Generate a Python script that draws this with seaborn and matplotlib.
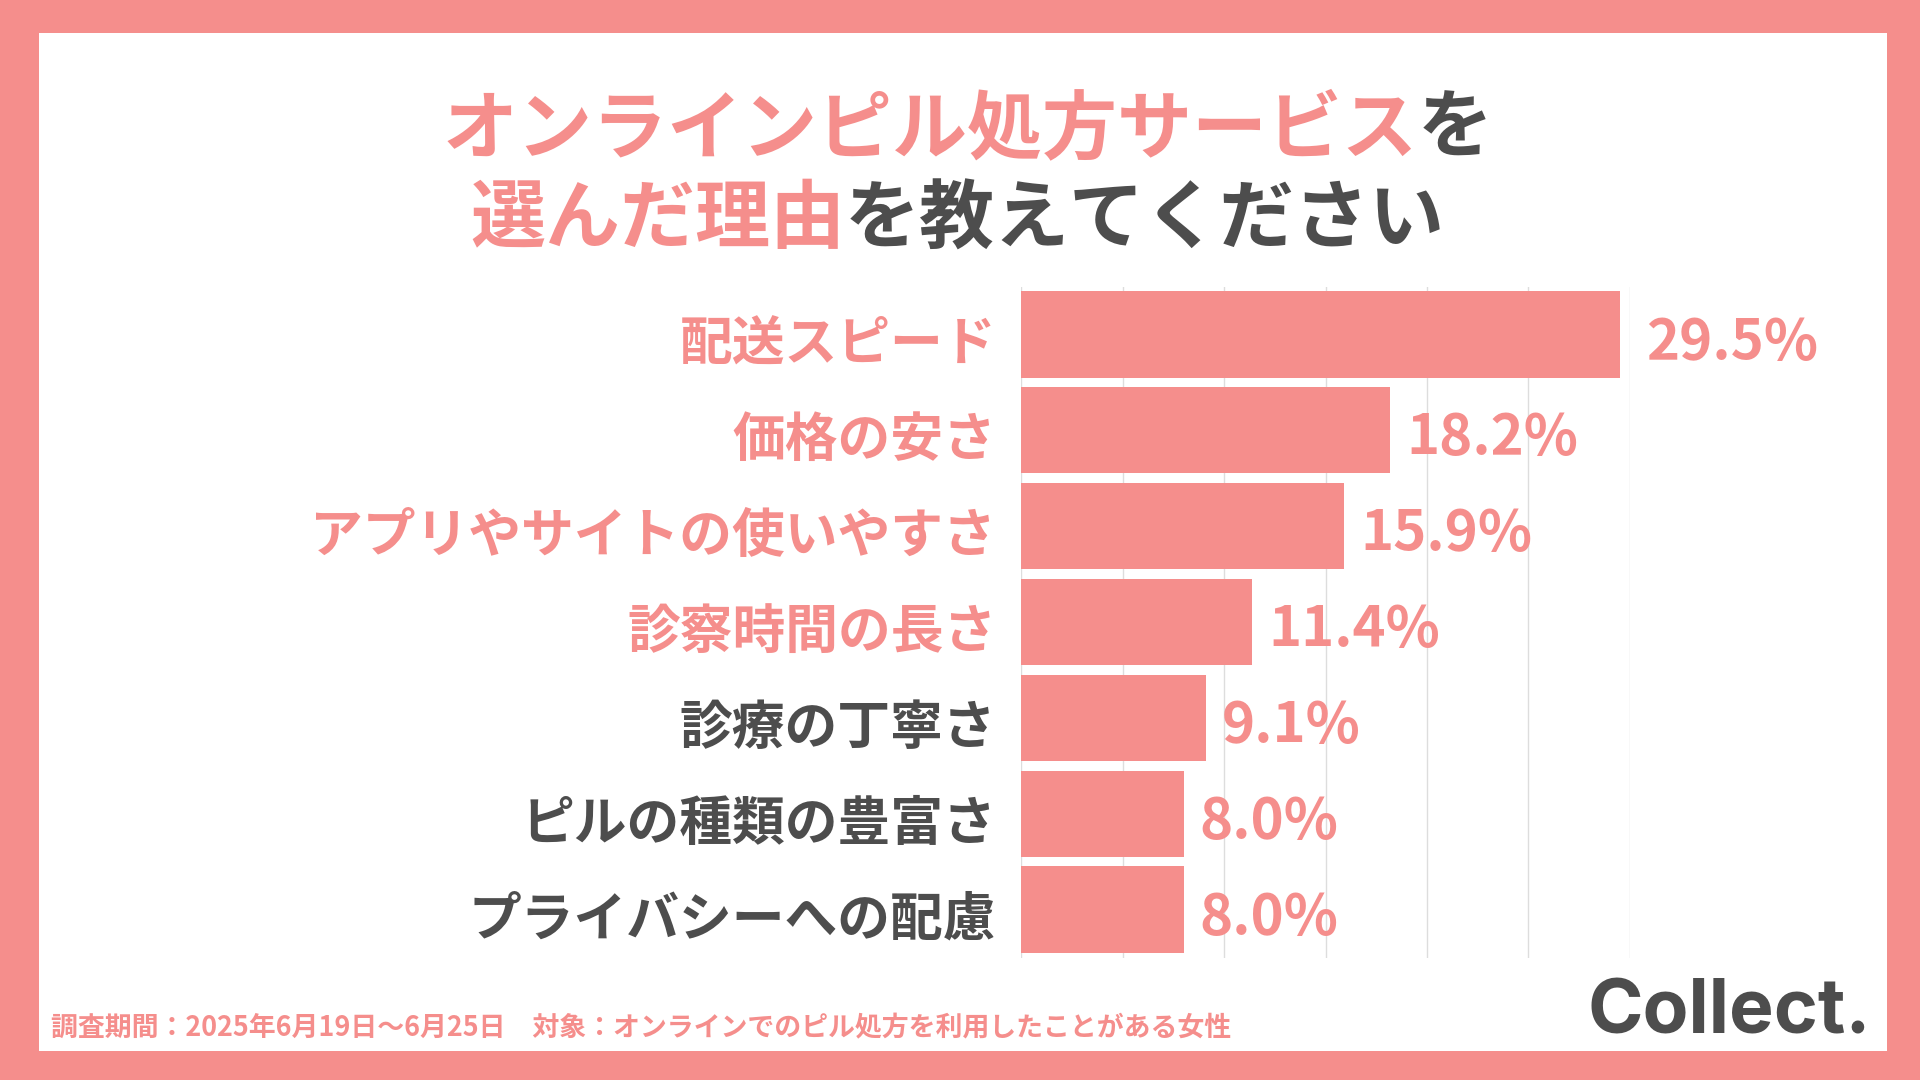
import matplotlib
matplotlib.use("Agg")
import matplotlib.pyplot as plt
import matplotlib.transforms as mtransforms
import seaborn as sns
import pandas as pd
from matplotlib.patches import Rectangle

categories = ["配送スピード", "価格の安さ", "アプリやサイトの使いやすさ", "診察時間の長さ",
              "診療の丁寧さ", "ピルの種類の豊富さ", "プライバシーへの配慮"]
values = [29.5, 18.2, 15.9, 11.4, 9.1, 8.0, 8.0]
label_colors = ["pink", "pink", "pink", "pink", "dark", "dark", "dark"]
xticks = [0, 5, 10, 15, 20, 25, 30]

PINK = "#F58E8C"
DARK = "#4D4D4D"
FONT = "Noto Sans CJK JP"
W, H = 1568, 882

df = pd.DataFrame({"cat": categories, "val": values})
fig = plt.figure(figsize=(19.2, 10.8), dpi=100)
fig.patch.set_facecolor(PINK)
fig.add_artist(Rectangle((32 / W, 1 - 858 / H), (1541 - 32) / W, (858 - 27) / H,
                         transform=fig.transFigure, facecolor="white", edgecolor="none", zorder=0))

ax = fig.add_axes([834 / W, 1 - 782 / H, (1331 - 834) / W, (782 - 234) / H])
ax.set_facecolor("none")
sns.barplot(data=df, x="val", y="cat", color=PINK, saturation=1, width=0.9, ax=ax, zorder=3)
ax.set_xlim(0, 30)
ax.set_xticks(xticks)
ax.set_xticklabels([])
ax.tick_params(length=0)
ax.grid(axis="x", color="#DDDDDD", linewidth=1, zorder=0)
for s in ax.spines.values():
    s.set_visible(False)
ax.set_xlabel("")
ax.set_ylabel("")
ax.set_yticks(range(len(categories)))
ax.set_yticklabels(categories, fontfamily=FONT, fontweight="bold", fontsize=38)
ax.tick_params(axis="y", pad=18)
shift = mtransforms.ScaledTranslation(0, -5 / 100, fig.dpi_scale_trans)
for t, c in zip(ax.get_yticklabels(), label_colors):
    t.set_color(PINK if c == "pink" else DARK)
    t.set_transform(t.get_transform() + shift)
for i, v in enumerate(values):
    ax.text(v + (1.3 if i == 0 else 0.8), i + 0.08, f"{v:.1f}%", va="center", ha="left", color=PINK,
            fontfamily=FONT, fontweight="bold", fontsize=40.5)

renderer = fig.canvas.get_renderer()

def mixed_line(parts, y, cx, size):
    texts = []
    for s, c in parts:
        texts.append(fig.text(0, y, s, color=c, fontfamily=FONT, fontweight="bold",
                              fontsize=size, va="center", ha="left"))
    widths = [t.get_window_extent(renderer).width / fig.bbox.width for t in texts]
    x = cx - sum(widths) / 2
    for t, w in zip(texts, widths):
        t.set_x(x)
        x += w

mixed_line([("オンラインピル処方サービス", PINK), ("を", DARK)], 1 - 106 / H, 790 / W, 54)
mixed_line([("選んだ理由", PINK), ("を教えてください", DARK)], 1 - 180 / H, 782 / W, 54)

fig.text(42 / W, 1 - 840 / H, "調査期間：2025年6月19日〜6月25日　対象：オンラインでのピル処方を利用したことがある女性",
         color=PINK, fontfamily=FONT, fontweight="bold", fontsize=19.4, va="center", ha="left")
fig.text(1528 / W, 1 - 828 / H, "Collect.", color=DARK, fontfamily="Inter", fontweight="bold",
         fontsize=54, va="center", ha="right")

fig.savefig("out.png", dpi=100, facecolor=fig.get_facecolor())
